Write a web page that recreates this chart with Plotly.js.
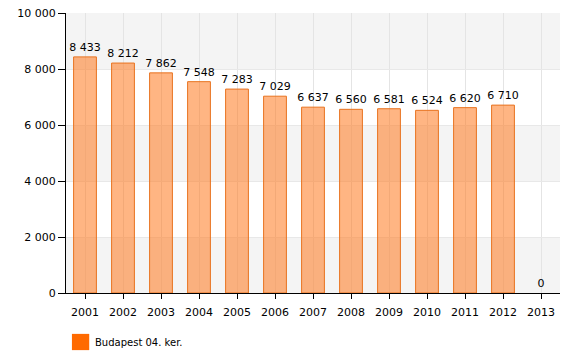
<!DOCTYPE html>
<html><head><meta charset="utf-8">
<script src="https://cdn.plot.ly/plotly-3.0.1.min.js"></script>
<style>html,body{margin:0;padding:0;background:#fff}#c{width:580px;height:363px}</style>
</head><body><div id="c"></div>
<script>
const years = ['2001','2002','2003','2004','2005','2006','2007','2008','2009','2010','2011','2012','2013'];
const values = [8433, 8212, 7862, 7548, 7283, 7029, 6637, 6560, 6581, 6524, 6620, 6710, 0];
const seriesName = 'Budapest 04. ker.';
const yTicks = [0, 2000, 4000, 6000, 8000, 10000];

const font = {family: 'Verdana, DejaVu Sans, sans-serif', size: 11, color: '#000'};
const bands = [[0,2000],[4000,6000],[8000,10000]].map(b => ({
  type:'rect', xref:'paper', yref:'y', x0:0, x1:1, y0:b[0], y1:b[1],
  fillcolor:'#f4f4f4', line:{width:0}, layer:'below'
}));

const trace = {
  type:'bar', x: years, y: values, name: seriesName, showlegend:false,
  width: 0.6,
  marker:{color:'rgba(255,120,30,0.55)', line:{color:'#e8731f', width: values.map(v => v > 0 ? 1 : 0)}},
  text: values.map(v => v.toLocaleString('fr-FR').replace(/\u202f|\u00a0/g,' ')),
  textposition:'outside', cliponaxis:false, constraintext:'none',
  textfont: font, hoverinfo:'x+y'
};

const layout = {
  width:580, height:363,
  margin:{l:66, r:20, t:13, b:70},
  paper_bgcolor:'#fff', plot_bgcolor:'rgba(0,0,0,0)',
  separators:', ',
  font: font,
  xaxis:{type:'category', showline:true, linecolor:'#000', linewidth:1,
    ticks:'outside', ticklen:5, tickcolor:'#000', showgrid:true, gridcolor:'#e4e4e4',
    ticklabelstandoff:4, tickfont:font, fixedrange:true},
  yaxis:{range:[0,10000], tickvals:yTicks, tickformat:',d', showline:true, linecolor:'#000',
    ticks:'outside', ticklen:7, tickcolor:'#000', showgrid:true, gridcolor:'#e8e8e8',
    zeroline:false, tickfont:font, fixedrange:true},
  shapes: bands.concat([{type:'rect', xref:'paper', yref:'paper', x0:0.012, x1:0.047,
    y0:-0.146, y1:-0.204, fillcolor:'#ff6a00', line:{width:0}}]),
  annotations:[{xref:'paper', yref:'paper', x:0.055, y:-0.175, xanchor:'left', yanchor:'middle',
    text:seriesName, showarrow:false, font:{family:font.family, size:10, color:'#000'}}],
  bargap:0.4
};
Plotly.newPlot('c',[trace],layout,{displayModeBar:false, staticPlot:true});
</script></body></html>
